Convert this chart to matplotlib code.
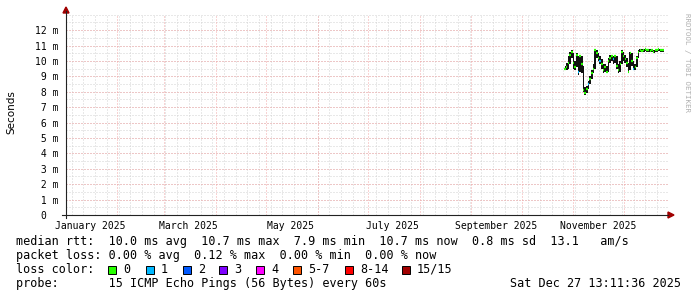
import matplotlib
matplotlib.use("Agg")
import matplotlib.pyplot as plt
import matplotlib.dates as mdates
from matplotlib.patches import Rectangle, Polygon
from matplotlib.lines import Line2D
import pandas as pd

W, H = 697, 297

# data (ms)
sample_start = "2025-10-27"
median = [9.5, 9.6, 9.9, 10.4, 10.6, 9.9, 9.6, 10.4, 9.3, 10.3,
          9.8, 8.1, 7.9, 8.2, 8.5, 8.8, 9.2, 9.5, 10.7, 10.5,
          10.2, 10.0, 9.8, 9.4, 9.6, 9.3, 10.0, 10.2, 10.3, 10.1,
          10.3, 9.7, 9.4, 9.8, 10.6, 10.3, 10.1, 9.9, 9.3, 10.5,
          10.0, 9.5, 9.6, 10.2, 10.6, 10.7, 10.65, 10.7, 10.75, 10.7,
          10.7, 10.65, 10.7, 10.6, 10.7, 10.7, 10.75, 10.7, 10.7, 10.7]
smoke_lo = [9.4, 9.4, 9.5, 9.8, 10.2, 9.5, 9.4, 9.6, 9.1, 9.3,
            9.2, 8.0, 7.8, 7.9, 8.2, 8.5, 8.8, 9.2, 9.5, 10.2,
            10.0, 9.8, 9.5, 9.2, 9.3, 9.2, 9.3, 9.9, 10.0, 9.8,
            9.9, 9.5, 9.2, 9.3, 9.8, 10.0, 9.9, 9.6, 9.2, 9.4,
            9.7, 9.4, 9.4, 9.6, 10.2, 10.6, 10.6, 10.6, 10.65, 10.6,
            10.6, 10.6, 10.6, 10.5, 10.6, 10.6, 10.65, 10.6, 10.6, 10.6]
smoke_hi = [9.7, 9.9, 10.3, 10.6, 10.7, 10.5, 10.0, 10.5, 10.3, 10.4,
            10.3, 9.7, 8.3, 8.4, 8.7, 9.0, 9.4, 9.8, 10.8, 10.7,
            10.5, 10.3, 10.1, 9.8, 9.8, 9.7, 10.2, 10.4, 10.4, 10.3,
            10.4, 10.3, 9.8, 10.0, 10.7, 10.6, 10.4, 10.2, 9.9, 10.6,
            10.5, 10.0, 9.8, 10.3, 10.7, 10.75, 10.75, 10.75, 10.8, 10.75,
            10.75, 10.75, 10.75, 10.7, 10.75, 10.75, 10.8, 10.75, 10.75, 10.75]
loss = [0, 0, 0, 0, 0, 0, 0, 0, 1, 0,
        0, 0, 0, 0, 1, 0, 0, 0, 0, 0,
        0, 1, 0, 0, 0, 0, 0, 0, 0, 1,
        0, 0, 0, 0, 0, 0, 0, 0, 0, 0,
        0, 1, 0, 0, 0, 0, 0, 0, 0, 0,
        0, 0, 0, 0, 0, 0, 0, 0, 0, 0]

loss_labels = ["0", "1", "2", "3", "4", "5-7", "8-14", "15/15"]
loss_colors = ["#26ff00", "#00b8ff", "#0059ff", "#7e00ff", "#ff00ff",
               "#ff5500", "#ff0000", "#a10000"]
loss_box_x = [108, 146, 183, 219, 256, 293, 345, 402]

y_ticks = list(range(0, 13))
y_labels = ["0  "] + ["%2d m" % v for v in range(1, 13)]
x_label_months = ["2025-01", "2025-03", "2025-05", "2025-07", "2025-09", "2025-11"]
x_label_text = ["January 2025", "March 2025", "May 2025", "July 2025",
                "September 2025", "November 2025"]

legend_lines = [
    "median rtt:  10.0 ms avg  10.7 ms max  7.9 ms min  10.7 ms now  0.8 ms sd  13.1   am/s",
    "packet loss: 0.00 % avg  0.12 % max  0.00 % min  0.00 % now",
    "loss color:",
    "probe:       15 ICMP Echo Pings (56 Bytes) every 60s",
]
stamp = "Sat Dec 27 13:11:36 2025"

t0 = pd.Timestamp("2025-01-01 13:11:36")
t1 = pd.Timestamp("2025-12-27 13:11:36")


def fx(x):
    return x / W


def fy(y):
    return 1 - y / H


MONO = "DejaVu Sans Mono"

fig = plt.figure(figsize=(W / 100, H / 100), dpi=100)
left, right, top, bottom = 66, 668, 14, 215
ax = fig.add_axes([fx(left), fy(bottom), fx(right) - fx(left), fy(top) - fy(bottom)])
ax.set_xlim(mdates.date2num(t0), mdates.date2num(t1))
ax.set_ylim(0, 13.05)
for s in ax.spines.values():
    s.set_visible(False)

dot = (0, (1, 2))
# minor grid
for wk in pd.date_range(t0.normalize(), t1, freq="W-SUN"):
    ax.axvline(mdates.date2num(wk), color="#d2d2d2", lw=0.72, ls=dot, zorder=0)
for k in range(1, 27):
    ax.axhline(k * 0.5, color="#d2d2d2", lw=0.72, ls=dot, zorder=0)
# major grid
for m in pd.date_range("2025-02-01", t1, freq="MS"):
    ax.axvline(mdates.date2num(m), color="#f2a8a8", lw=0.72, ls=dot, zorder=1)
for k in range(1, 13):
    ax.axhline(k, color="#f2a8a8", lw=0.72, ls=dot, zorder=1)

# smoke + median
dates = pd.date_range(sample_start, periods=len(median), freq="D")
xd = mdates.date2num(dates)
ax.fill_between(xd, smoke_lo, smoke_hi, step="mid", color="#111111", lw=0, zorder=3)
for x, v, l in zip(xd, median, loss):
    ax.hlines(v, x - 0.45, x + 0.45, color=loss_colors[l], lw=1.6, zorder=4)

# ticks
ax.set_yticks(y_ticks)
ax.set_yticklabels(y_labels, fontfamily=MONO, fontsize=7)
lab_pos = [mdates.date2num(pd.Timestamp(m + "-01") + pd.Timedelta(days=15)) for m in x_label_months]
ax.set_xticks(lab_pos)
ax.set_xticklabels(x_label_text, fontfamily=MONO, fontsize=7)
ax.tick_params(length=0, pad=4)
ax.tick_params(axis="y", pad=5.5)

# axes lines and arrows
fig.add_artist(Line2D([fx(66), fx(66)], [fy(bottom + 3), fy(11)], color="#222222", lw=0.8))
fig.add_artist(Line2D([fx(62), fx(668)], [fy(bottom), fy(bottom)], color="#222222", lw=0.8))
arrow_col = "#a00000"
fig.add_artist(Polygon([[fx(63), fy(13)], [fx(69), fy(13)], [fx(66), fy(7)]], closed=True,
                       color=arrow_col, transform=fig.transFigure))
fig.add_artist(Polygon([[fx(668), fy(212)], [fx(668), fy(218)], [fx(674), fy(215)]], closed=True,
                       color=arrow_col, transform=fig.transFigure))

# y label and credit
fig.text(fx(11), fy(112), "Seconds", rotation=90, ha="center", va="center",
         fontfamily="DejaVu Sans", fontsize=7.5)
fig.text(fx(687), fy(13), "RRDTOOL / TOBI OETIKER", rotation=270, ha="center", va="top",
         fontfamily=MONO, fontsize=5.4, color="#b0b0b0")

# legend
for i, line in enumerate(legend_lines):
    fig.text(fx(16), fy(241.5 + 14 * i), line, ha="left", va="center",
             fontfamily=MONO, fontsize=8.5)
for bx, c, lab in zip(loss_box_x, loss_colors, loss_labels):
    fig.add_artist(Rectangle((fx(bx), fy(273.5)), 8 / W, 8 / H, facecolor=c,
                             edgecolor="black", lw=0.7, transform=fig.transFigure))
    fig.text(fx(bx + 15), fy(269.5), lab, ha="left", va="center", fontfamily=MONO, fontsize=8.5)
fig.text(fx(681), fy(283.5), stamp, ha="right", va="center", fontfamily=MONO, fontsize=8.5)

fig.savefig("out.png", dpi=100)
